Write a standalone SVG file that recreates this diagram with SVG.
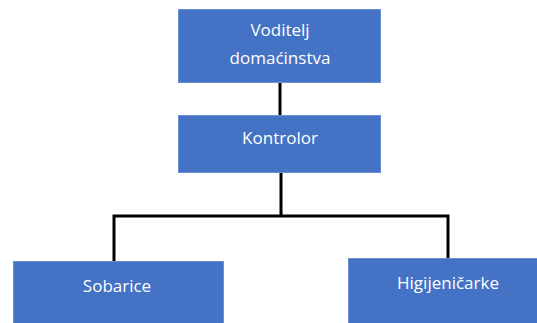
<svg xmlns="http://www.w3.org/2000/svg" width="537" height="323" viewBox="0 0 537 323">
<style>
.box{fill:#4472C4;stroke:#6b8fd0;stroke-width:1}
.t{font-family:"Open Sans","Liberation Sans",sans-serif;font-size:17px;fill:#ffffff;text-anchor:middle}
.c{fill:none;stroke:#000;stroke-width:3}
</style>
<rect width="537" height="323" fill="#ffffff"/>
<g id="connectors">
<path class="c" d="M280 83 V115"/>
<path class="c" d="M281 173 V216 M114 262 V216 H448 V259"/>
</g>
<g id="voditelj">
<rect class="box" x="178.5" y="9.5" width="202" height="73"/>
<text class="t" x="280" y="36">Voditelj</text>
<text class="t" x="280" y="64">domaćinstva</text>
</g>
<g id="kontrolor">
<rect class="box" x="178.5" y="115.5" width="202" height="57"/>
<text class="t" x="280" y="144">Kontrolor</text>
</g>
<g id="sobarice">
<rect class="box" x="13.5" y="261.5" width="210" height="70"/>
<text class="t" x="117" y="292">Sobarice</text>
</g>
<g id="higijenicarke">
<rect class="box" x="348.5" y="258.5" width="200" height="70"/>
<text class="t" x="448" y="289">Higijeničarke</text>
</g>
</svg>
